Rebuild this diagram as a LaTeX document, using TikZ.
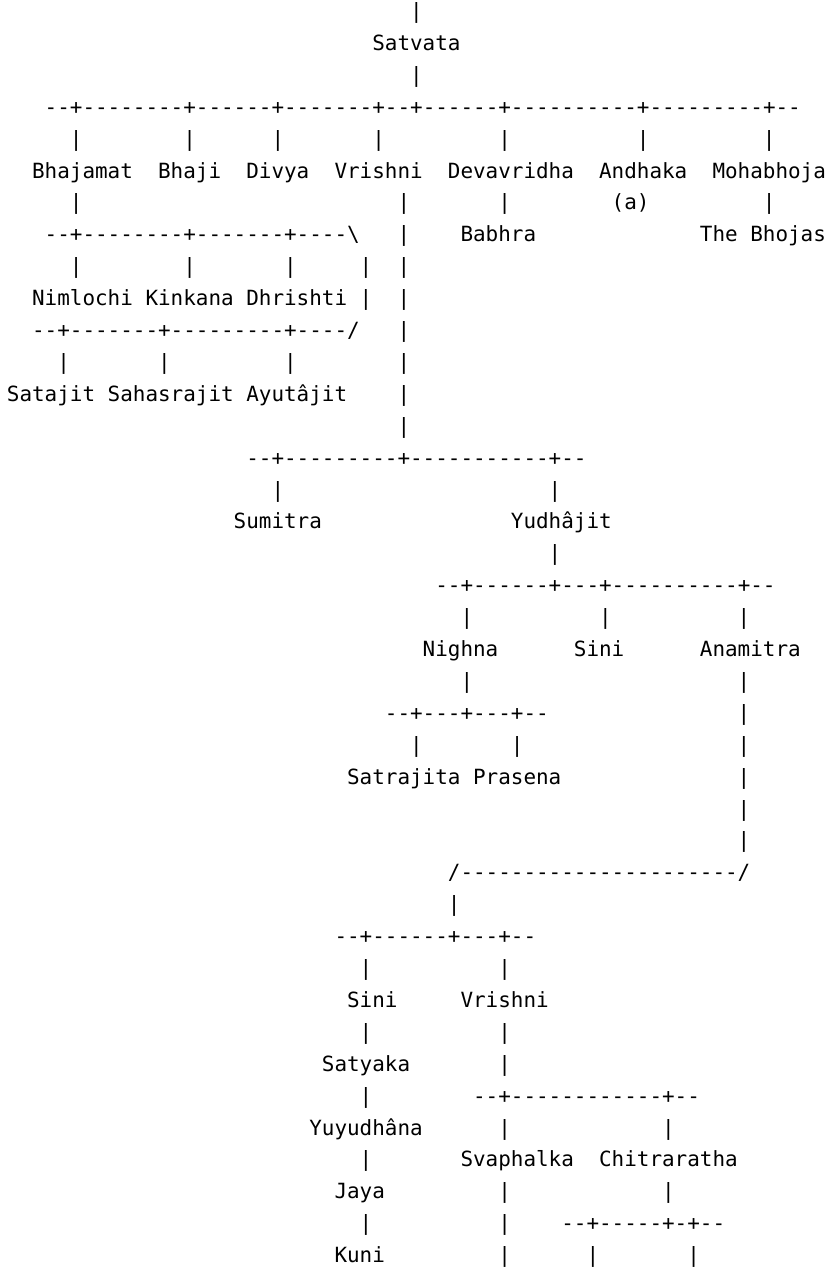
\documentclass[tikz,border=0pt]{standalone}
\usepackage{fontspec}
\newfontfamily\monofnt{DejaVu Sans Mono}
\tikzset{
  txt/.style={inner sep=0pt, outer sep=0pt, anchor=base west,
    font=\monofnt\fontsize{15.7}{15.7}\selectfont, text=black}
}
% #1 row, #2 column, #3 text
\newcommand\T[3]{\node[txt] (r#1c#2) at ({6.9+12.6*#2},{18.5+31.9*(#1-1)}) {#3};}
\newcommand\B[2]{\T{#1}{#2}{|}}
\begin{document}
\begin{tikzpicture}[x=0.75pt,y=-0.75pt]
\useasboundingbox (0,0) rectangle (832,1267);
\B{1}{32}
\T{2}{29}{Satvata}
\B{3}{32}
\T{4}{3}{--+--------+------+-------+--+------+----------+---------+--}
\B{5}{5}\B{5}{14}\B{5}{21}\B{5}{29}\B{5}{39}\B{5}{50}\B{5}{60}
\T{6}{2}{Bhajamat}\T{6}{12}{Bhaji}\T{6}{19}{Divya}\T{6}{26}{Vrishni}
\T{6}{35}{Devavridha}\T{6}{47}{Andhaka}\T{6}{56}{Mohabhoja}
\B{7}{5}\B{7}{31}\B{7}{39}\T{7}{48}{(a)}\B{7}{60}
\T{8}{3}{--+--------+-------+----\textbackslash}\B{8}{31}\T{8}{36}{Babhra}\T{8}{55}{The Bhojas}
\B{9}{5}\B{9}{14}\B{9}{22}\B{9}{28}\B{9}{31}
\T{10}{2}{Nimlochi Kinkana Dhrishti |}\B{10}{31}
\T{11}{2}{--+-------+---------+----/}\B{11}{31}
\B{12}{4}\B{12}{12}\B{12}{22}\B{12}{31}
\T{13}{0}{Satajit Sahasrajit Ayutâjit}\B{13}{31}
\B{14}{31}
\T{15}{19}{--+---------+-----------+--}
\B{16}{21}\B{16}{43}
\T{17}{18}{Sumitra}\T{17}{40}{Yudhâjit}
\B{18}{43}
\T{19}{34}{--+------+---+----------+--}
\B{20}{36}\B{20}{47}\B{20}{58}
\T{21}{33}{Nighna}\T{21}{45}{Sini}\T{21}{55}{Anamitra}
\B{22}{36}\B{22}{58}
\T{23}{30}{--+---+---+--}\B{23}{58}
\B{24}{32}\B{24}{40}\B{24}{58}
\T{25}{27}{Satrajita Prasena}\B{25}{58}
\B{26}{58}
\B{27}{58}
\T{28}{35}{/----------------------/}
\B{29}{35}
\T{30}{26}{--+------+---+--}
\B{31}{28}\B{31}{39}
\T{32}{27}{Sini}\T{32}{36}{Vrishni}
\B{33}{28}\B{33}{39}
\T{34}{25}{Satyaka}\B{34}{39}
\B{35}{28}\T{35}{37}{--+------------+--}
\T{36}{24}{Yuyudhâna}\B{36}{39}\B{36}{52}
\B{37}{28}\T{37}{36}{Svaphalka}\T{37}{47}{Chitraratha}
\T{38}{26}{Jaya}\B{38}{39}\B{38}{52}
\B{39}{28}\B{39}{39}\T{39}{44}{--+-----+-+--}
\T{40}{26}{Kuni}\B{40}{39}\B{40}{46}\B{40}{54}
\end{tikzpicture}
\end{document}
